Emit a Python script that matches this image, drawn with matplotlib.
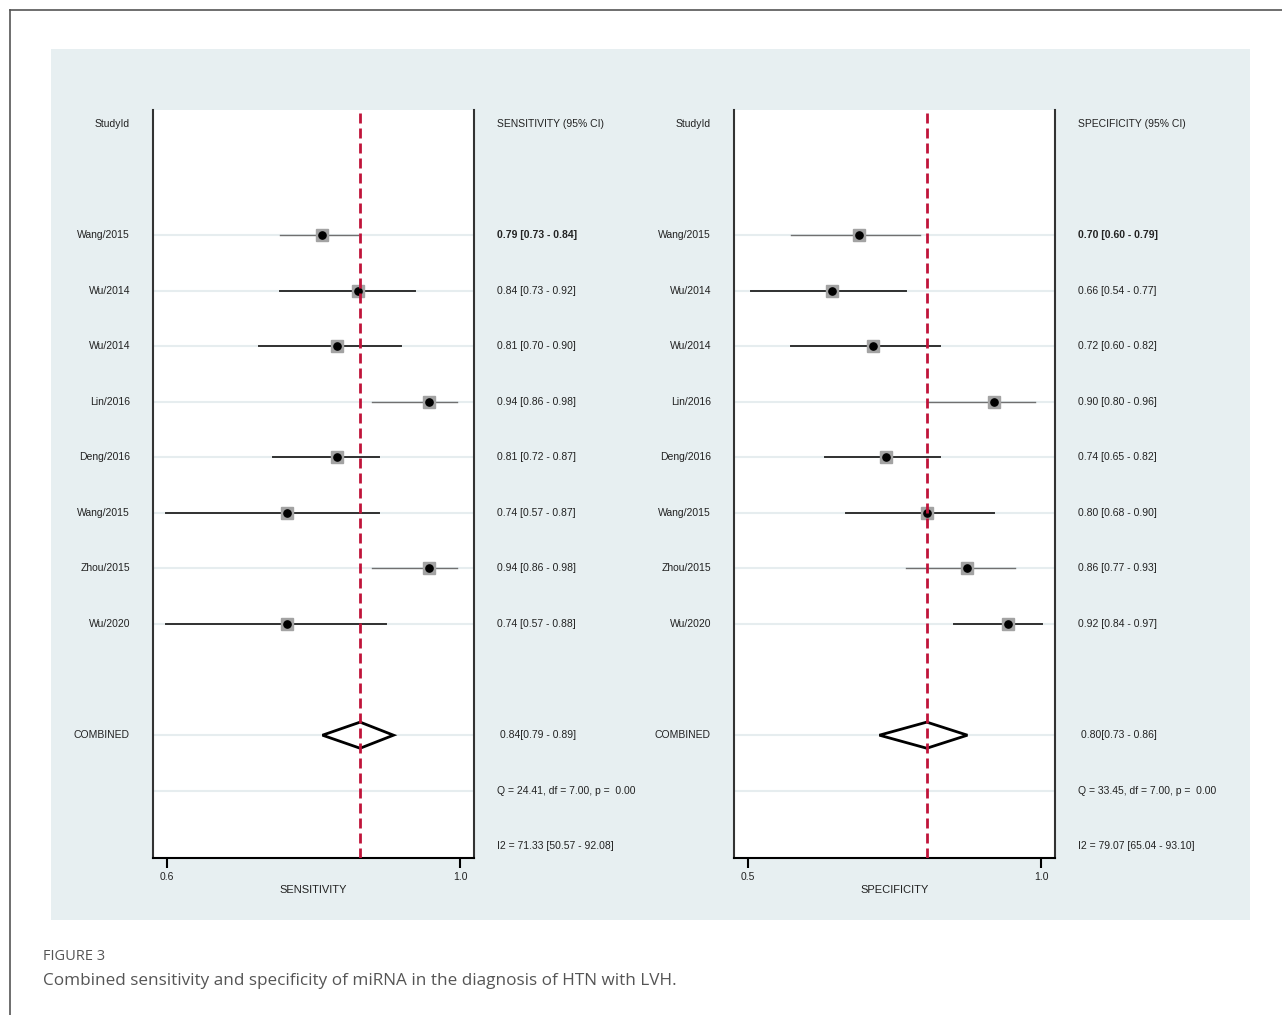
import numpy as np
import matplotlib
matplotlib.use('Agg')
import matplotlib.pyplot as plt
import matplotlib.transforms as mtransforms
from matplotlib.lines import Line2D
from matplotlib.patches import Rectangle

plt.rcParams['font.family'] = ['Liberation Sans', 'DejaVu Sans']

# studies (same order in both panels)
STUDIES = ['Wang/2015', 'Wu/2014', 'Wu/2014', 'Lin/2016', 'Deng/2016',
           'Wang/2015', 'Zhou/2015', 'Wu/2020']

SENS = [0.79, 0.84, 0.81, 0.94, 0.81, 0.74, 0.94, 0.74]
SENS_LO = [0.73, 0.73, 0.70, 0.86, 0.72, 0.57, 0.86, 0.57]
SENS_HI = [0.84, 0.92, 0.90, 0.98, 0.87, 0.87, 0.98, 0.88]
SENS_POOLED = [0.843, 0.79, 0.89]
SENS_Q = 'Q = 24.41, df = 7.00, p =  0.00'
SENS_I2 = 'I2 = 71.33 [50.57 - 92.08]'

SPEC = [0.70, 0.66, 0.72, 0.90, 0.74, 0.80, 0.86, 0.92]
SPEC_LO = [0.60, 0.54, 0.60, 0.80, 0.65, 0.68, 0.77, 0.84]
SPEC_HI = [0.79, 0.77, 0.82, 0.96, 0.82, 0.90, 0.93, 0.97]
SPEC_POOLED = [0.80, 0.73, 0.86]
SPEC_Q = 'Q = 33.45, df = 7.00, p =  0.00'
SPEC_I2 = 'I2 = 79.07 [65.04 - 93.10]'

# CI lines drawn lighter for these rows
LIGHT_ROWS = [0, 3, 6]

W, H = 1282, 1015
BG = '#e7eff1'
TXT = '#222222'


def fig_rect(x0, y0, x1, y1):
    # pixel box (top-left origin) -> figure fraction [l, b, w, h]
    return [x0 / W, 1 - y1 / H, (x1 - x0) / W, (y1 - y0) / H]


def draw_panel(fig, box, est, lo, hi, pooled, qtxt, i2txt, xlim, ticks, ticklabels, name):
    ax = fig.add_axes(fig_rect(*box))
    ax.set_facecolor('white')
    rows = np.arange(len(est)) + 2
    r_comb = rows[-1] + 2
    ax.set_xlim(*xlim)
    ax.set_ylim(13.21, -0.25)

    for r in list(rows) + [r_comb, r_comb + 1]:
        ax.axhline(r, color='#e6edef', lw=1.5, zorder=0)

    for i, r in enumerate(rows):
        if i in LIGHT_ROWS:
            c, lw = '#707070', 1.0
        else:
            c, lw = '#303030', 1.4
        ax.plot([lo[i], hi[i]], [r, r], color=c, lw=lw, zorder=2)
    ax.plot(est, rows, 's', ms=8.5, mfc='#a3a3a3', mec='#a3a3a3', zorder=3)
    ax.plot(est, rows, 'o', ms=5.2, mfc='black', mec='black', zorder=4)

    # pooled diamond
    p, plo, phi = pooled
    h = 0.235
    ax.fill([plo, p, phi, p], [r_comb, r_comb - h, r_comb, r_comb + h],
            facecolor='white', edgecolor='black', lw=2, zorder=3)
    ax.axvline(p, color='#c0143a', lw=2, dashes=(3.6, 1.8), zorder=5)

    ax.spines['top'].set_visible(False)
    ax.spines['left'].set_color('#333333')
    ax.spines['right'].set_color('#333333')
    ax.spines['bottom'].set_color('black')
    for s in ['left', 'right', 'bottom']:
        ax.spines[s].set_linewidth(1.5)
    ax.set_yticks([])
    ax.set_xticks(ticks)
    ax.set_xticklabels(ticklabels)
    ax.tick_params(axis='x', direction='out', length=7, width=1.5, labelsize=7.5,
                   pad=3, labelcolor=TXT)
    ax.set_xlabel(name, fontsize=8, color=TXT, labelpad=2)

    tr = mtransforms.blended_transform_factory(ax.transAxes, ax.transData)
    xl = -0.0717
    xr = 1.0705
    fs = 7.5
    ax.text(xl, 0, 'StudyId', transform=tr, ha='right', va='center', fontsize=fs, color=TXT)
    ax.text(xr, 0, name + ' (95% CI)', transform=tr, ha='left', va='center', fontsize=fs, color=TXT)
    for i, r in enumerate(rows):
        ax.text(xl, r, STUDIES[i], transform=tr, ha='right', va='center', fontsize=fs, color=TXT)
        ax.text(xr, r, '%.2f [%.2f - %.2f]' % (est[i], lo[i], hi[i]), transform=tr,
                ha='left', va='center', fontsize=fs, color=TXT,
                fontweight='bold' if i == 0 else 'normal')
    ax.text(xl, r_comb, 'COMBINED', transform=tr, ha='right', va='center', fontsize=fs, color=TXT)
    ax.text(xr + 0.009, r_comb, '%.2f[%.2f - %.2f]' % (p, plo, phi), transform=tr,
            ha='left', va='center', fontsize=fs, color=TXT)
    ax.text(xr, r_comb + 1, qtxt, transform=tr, ha='left', va='center', fontsize=fs, color=TXT)
    ax.text(xr, r_comb + 2, i2txt, transform=tr, ha='left', va='center', fontsize=fs, color=TXT)
    return ax


fig = plt.figure(figsize=(W / 100, H / 100), dpi=100)
fig.patch.set_facecolor('white')

# frame lines (top and left only)
fig.add_artist(Line2D([10 / W, 10 / W], [0, 1 - 10 / H], color='#555555', lw=1.2))
fig.add_artist(Line2D([10 / W, 1], [1 - 10 / H, 1 - 10 / H], color='#555555', lw=1.2))

# light panel behind the plots
l, b, w, h = fig_rect(51, 49, 1250, 920)
fig.add_artist(Rectangle((l, b), w, h, transform=fig.transFigure, facecolor=BG,
                         edgecolor='none', zorder=0))

draw_panel(fig, (153, 110, 474, 858), SENS, SENS_LO, SENS_HI, SENS_POOLED, SENS_Q, SENS_I2,
           (0.5513, 1.0034), [0.571, 0.984], ['0.6', '1.0'], 'SENSITIVITY')
draw_panel(fig, (734, 110, 1055, 858), SPEC, SPEC_LO, SPEC_HI, SPEC_POOLED, SPEC_Q, SPEC_I2,
           (0.5152, 0.9894), [0.536, 0.969], ['0.5', '1.0'], 'SPECIFICITY')

fig.text(43 / W, 1 - 957 / H, 'FIGURE 3', fontsize=10.5, color='#555555',
         family=['Open Sans', 'DejaVu Sans'], ha='left', va='center')
fig.text(43 / W, 1 - 981 / H, 'Combined sensitivity and specificity of miRNA in the diagnosis of HTN with LVH.',
         fontsize=12.3, color='#555555', family=['Open Sans', 'DejaVu Sans'], ha='left', va='center')

fig.savefig('out.png', dpi=100)
